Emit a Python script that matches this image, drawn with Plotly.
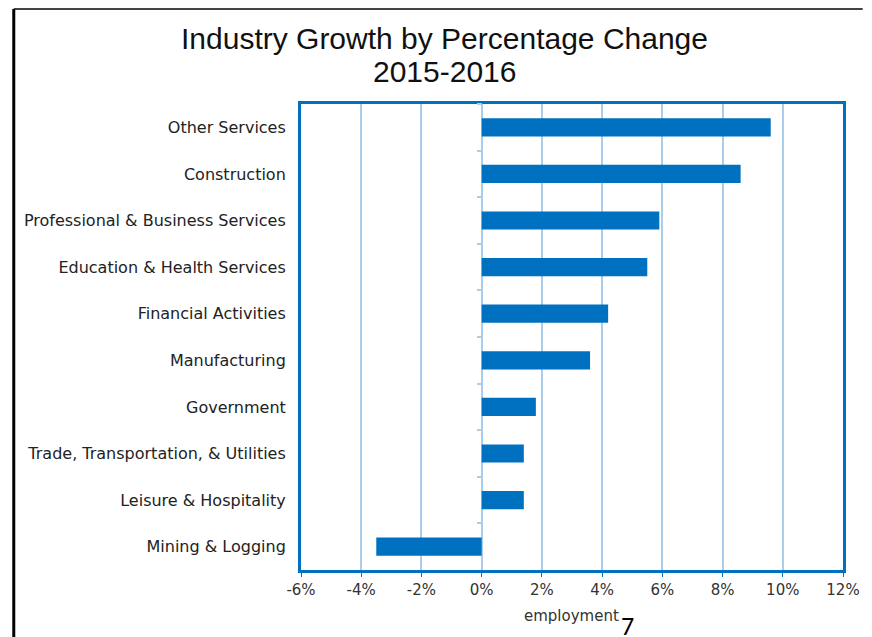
import plotly.graph_objects as go

# data, top row first
industries = [
    "Other Services",
    "Construction",
    "Professional & Business Services",
    "Education & Health Services",
    "Financial Activities",
    "Manufacturing",
    "Government",
    "Trade, Transportation, & Utilities",
    "Leisure & Hospitality",
    "Mining & Logging",
]
pct_change = [9.6, 8.6, 5.9, 5.5, 4.2, 3.6, 1.8, 1.4, 1.4, -3.5]
x_ticks = [-6, -4, -2, 0, 2, 4, 6, 8, 10, 12]
x_ticktext = [f"{t}%" for t in x_ticks]
title_lines = ["Industry Growth by Percentage Change", "2015-2016"]

W, H = 872, 637
L, R, T, B = 301, 20, 104, 67
XMIN, XMAX = -6, 12

BLUE = "#0070C0"
GRID = "#A9CDEB"
TITLE_FONT = "Liberation Sans, Arial, sans-serif"
LABEL_FONT = "DejaVu Sans, Verdana, sans-serif"


def px_x(px):
    # pixel -> paper x
    return (px - L) / (W - L - R)


def px_y(py):
    # pixel -> paper y
    return (H - B - py) / (H - T - B)


fig = go.Figure()

fig.add_trace(go.Bar(
    x=pct_change,
    y=industries,
    orientation="h",
    width=0.39,
    marker=dict(color=BLUE, line=dict(width=0)),
    showlegend=False,
))

# invisible copy so the second y axis (tick marks at 0%) has categories
fig.add_trace(go.Scatter(
    x=pct_change,
    y=industries,
    yaxis="y2",
    mode="markers",
    marker=dict(opacity=0),
    hoverinfo="skip",
    showlegend=False,
))

fig.update_layout(
    width=W,
    height=H,
    margin=dict(l=L, r=R, t=T, b=B),
    paper_bgcolor="white",
    plot_bgcolor="white",
    font=dict(family=LABEL_FONT, color="#333333"),
    xaxis=dict(
        range=[XMIN, XMAX],
        tickvals=x_ticks,
        ticktext=x_ticktext,
        tickfont=dict(size=15, color="#333333"),
        showgrid=True,
        gridcolor=GRID,
        gridwidth=1.5,
        zeroline=True,
        zerolinecolor=GRID,
        zerolinewidth=1.5,
        showline=True,
        linecolor=BLUE,
        linewidth=3,
        mirror=True,
        ticks="outside",
        ticklen=4,
        tickcolor=BLUE,
        fixedrange=True,
    ),
    yaxis=dict(
        type="category",
        categoryorder="array",
        categoryarray=industries,
        range=[len(industries) - 0.5, -0.5],
        tickfont=dict(size=16, color="#222222"),
        showgrid=False,
        showline=True,
        linecolor=BLUE,
        linewidth=3,
        mirror=True,
        ticks="",
        ticklabelstandoff=9,
        fixedrange=True,
    ),
    yaxis2=dict(
        type="category",
        categoryorder="array",
        categoryarray=industries,
        range=[len(industries) - 0.5, -0.5],
        overlaying="y",
        anchor="free",
        position=(0 - XMIN) / (XMAX - XMIN),
        side="left",
        showticklabels=False,
        showgrid=False,
        showline=False,
        ticks="outside",
        tickson="boundaries",
        ticklen=5,
        tickwidth=1.5,
        tickcolor=GRID,
        fixedrange=True,
    ),
)

# two-line title as separate annotations
for line, ypx in zip(title_lines, [39, 72]):
    fig.add_annotation(
        text=line,
        x=px_x(447), y=px_y(ypx),
        xref="paper", yref="paper",
        showarrow=False,
        xanchor="center", yanchor="middle",
        font=dict(family=TITLE_FONT, size=30, color="#111111"),
    )

fig.add_annotation(
    text="employment",
    x=px_x(576), y=px_y(616),
    xref="paper", yref="paper",
    showarrow=False,
    xanchor="center", yanchor="middle",
    font=dict(family=LABEL_FONT, size=15, color="#333333"),
)
fig.add_annotation(
    text="7",
    x=px_x(633), y=px_y(626),
    xref="paper", yref="paper",
    showarrow=False,
    xanchor="center", yanchor="middle",
    font=dict(family="Carlito, Liberation Sans, sans-serif", size=26, color="#000000"),
)

# slide frame: top rule and left rule
fig.add_shape(type="line", xref="paper", yref="paper",
              x0=px_x(9), x1=px_x(W), y0=px_y(9), y1=px_y(9),
              line=dict(color="#444444", width=2))
fig.add_shape(type="line", xref="paper", yref="paper",
              x0=px_x(9), x1=px_x(9), y0=px_y(9), y1=px_y(H),
              line=dict(color="#000000", width=3))

# drop the browser's default body margin so the figure sits at 0,0
fig.write_html(
    "out.html",
    config={"displayModeBar": False},
    post_script="document.body.style.margin='0';",
)
